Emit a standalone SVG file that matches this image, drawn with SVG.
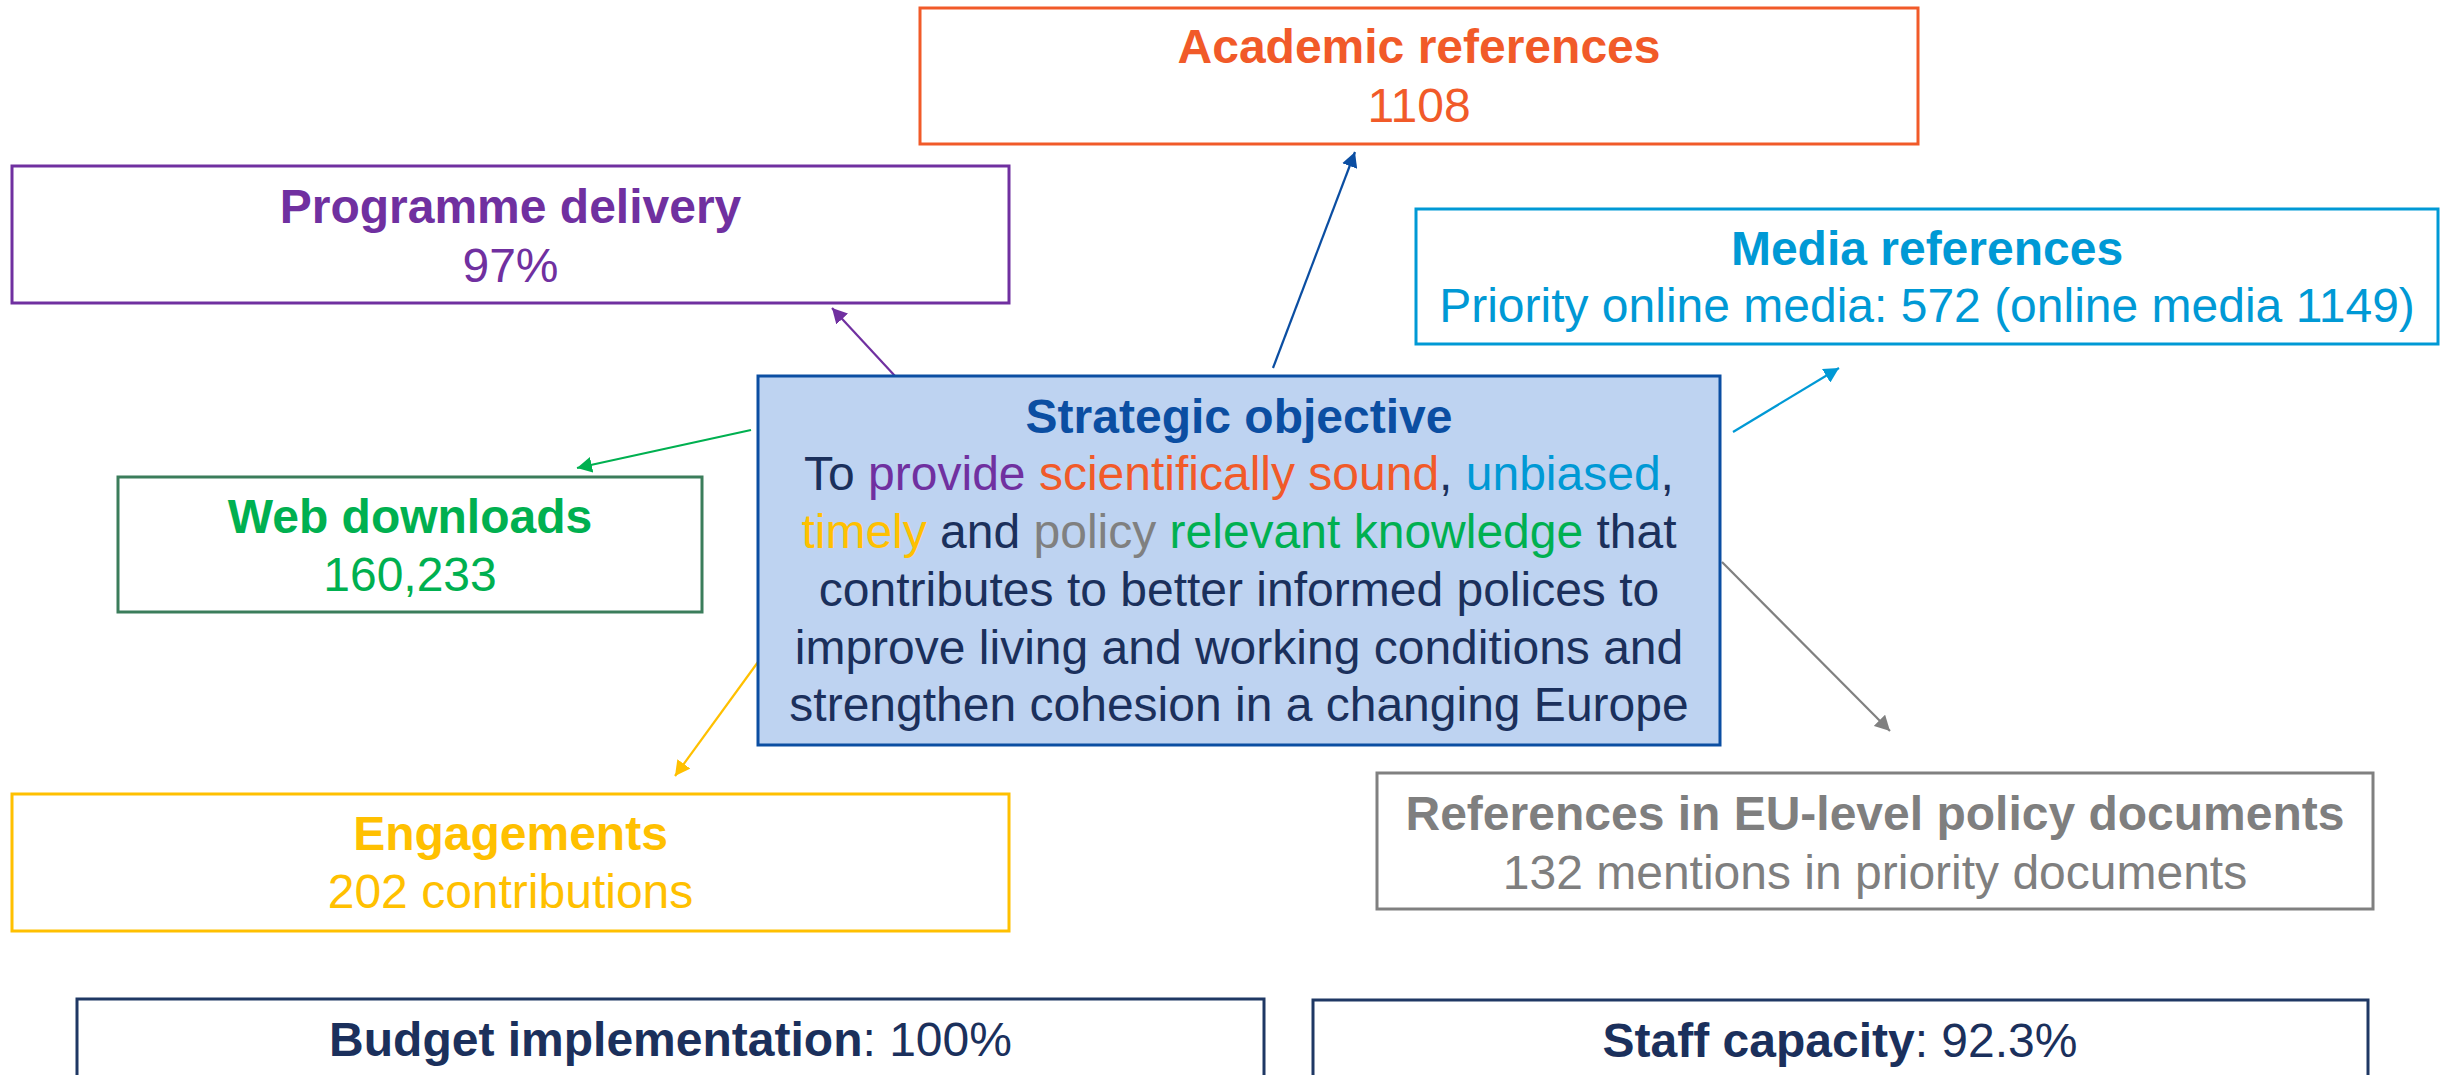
<svg xmlns="http://www.w3.org/2000/svg" width="2445" height="1075" viewBox="0 0 2445 1075">
<defs>
<style>
text{font-family:"Liberation Sans",Arial,Helvetica,sans-serif;font-size:48px;text-anchor:middle}
.b{font-weight:bold}
.box{fill:#ffffff;stroke-width:3}
.con{fill:none;stroke-width:2.2}
</style>
<marker id="aP" markerUnits="userSpaceOnUse" markerWidth="16" markerHeight="16" refX="15" refY="8" orient="auto"><path d="M0,0L15,8L0,16z" fill="#7030A0"/></marker>
<marker id="aD" markerUnits="userSpaceOnUse" markerWidth="16" markerHeight="16" refX="15" refY="8" orient="auto"><path d="M0,0L15,8L0,16z" fill="#0B4EA2"/></marker>
<marker id="aB" markerUnits="userSpaceOnUse" markerWidth="16" markerHeight="16" refX="15" refY="8" orient="auto"><path d="M0,0L15,8L0,16z" fill="#0099D5"/></marker>
<marker id="aG" markerUnits="userSpaceOnUse" markerWidth="16" markerHeight="16" refX="15" refY="8" orient="auto"><path d="M0,0L15,8L0,16z" fill="#00B050"/></marker>
<marker id="aY" markerUnits="userSpaceOnUse" markerWidth="16" markerHeight="16" refX="15" refY="8" orient="auto"><path d="M0,0L15,8L0,16z" fill="#FFC000"/></marker>
<marker id="aR" markerUnits="userSpaceOnUse" markerWidth="16" markerHeight="16" refX="15" refY="8" orient="auto"><path d="M0,0L15,8L0,16z" fill="#808080"/></marker>
</defs>
<rect width="2445" height="1075" fill="#ffffff"/>

<g id="connectors">
<line class="con" x1="895" y1="376" x2="832" y2="308" stroke="#7030A0" marker-end="url(#aP)"/>
<line class="con" x1="1273" y1="368" x2="1355" y2="152" stroke="#0B4EA2" marker-end="url(#aD)"/>
<line class="con" x1="1733" y1="432" x2="1839" y2="368" stroke="#0099D5" marker-end="url(#aB)"/>
<line class="con" x1="751" y1="430" x2="577" y2="468" stroke="#00B050" marker-end="url(#aG)"/>
<line class="con" x1="758" y1="662" x2="675" y2="776" stroke="#FFC000" marker-end="url(#aY)"/>
<line class="con" x1="1722" y1="562" x2="1890" y2="731" stroke="#808080" marker-end="url(#aR)"/>
</g>

<g id="academic">
<rect class="box" x="920" y="8" width="998" height="136" stroke="#F15A29"/>
<text x="1419" y="63" class="b" fill="#F15A29">Academic references</text>
<text x="1419" y="122" fill="#F15A29">1108</text>
</g>

<g id="programme">
<rect class="box" x="12" y="166" width="997" height="137" stroke="#7030A0"/>
<text x="510.5" y="223" class="b" fill="#7030A0">Programme delivery</text>
<text x="510.5" y="282" fill="#7030A0">97%</text>
</g>

<g id="media">
<rect class="box" x="1416" y="209" width="1022" height="135" stroke="#0099D5"/>
<text x="1927" y="265" class="b" fill="#0099D5">Media references</text>
<text x="1927" y="322" fill="#0099D5">Priority online media: 572 (online media 1149)</text>
</g>

<g id="strategic">
<rect x="758" y="376" width="962" height="369" fill="#BED3F1" stroke="#0B4EA2" stroke-width="3"/>
<text x="1239" y="433" class="b" fill="#0B4EA2">Strategic objective</text>
<text x="1239" y="490" fill="#1B305C">To <tspan fill="#7030A0">provide</tspan> <tspan fill="#F15A29">scientifically sound</tspan>, <tspan fill="#0099D5">unbiased</tspan>,</text>
<text x="1239" y="548" fill="#1B305C"><tspan fill="#FFC000">timely</tspan> and <tspan fill="#808080">policy</tspan> <tspan fill="#00B050">relevant knowledge</tspan> that</text>
<text x="1239" y="606" fill="#1B305C">contributes to better informed polices to</text>
<text x="1239" y="664" fill="#1B305C">improve living and working conditions and</text>
<text x="1239" y="721" fill="#1B305C">strengthen cohesion in a changing Europe</text>
</g>

<g id="web">
<rect class="box" x="118" y="477" width="584" height="135" stroke="#3B7D5B" stroke-width="2.5"/>
<text x="410" y="533" class="b" fill="#00B050">Web downloads</text>
<text x="410" y="591" fill="#00B050">160,233</text>
</g>

<g id="engagements">
<rect class="box" x="12" y="794" width="997" height="137" stroke="#FFC000"/>
<text x="510.5" y="850" class="b" fill="#FFC000">Engagements</text>
<text x="510.5" y="908" fill="#FFC000">202 contributions</text>
</g>

<g id="references">
<rect class="box" x="1377" y="773" width="996" height="136" stroke="#808080"/>
<text x="1875" y="830" class="b" fill="#7F7F7F">References in EU-level policy documents</text>
<text x="1875" y="889" fill="#7F7F7F">132 mentions in priority documents</text>
</g>

<g id="budget">
<rect class="box" x="77" y="999" width="1187" height="110" stroke="#1F3864"/>
<text x="670.5" y="1056" fill="#1B305C"><tspan class="b">Budget implementation</tspan>: 100%</text>
</g>

<g id="staff">
<rect class="box" x="1313" y="1000" width="1055" height="110" stroke="#1F3864"/>
<text x="1840" y="1057" fill="#1B305C"><tspan class="b">Staff capacity</tspan>: 92.3%</text>
</g>
</svg>
